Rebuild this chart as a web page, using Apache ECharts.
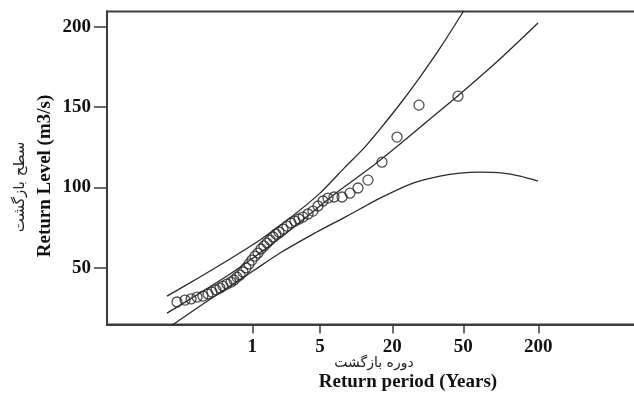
<!DOCTYPE html>
<html>
<head>
<meta charset="utf-8">
<script src="https://cdn.jsdelivr.net/npm/echarts@6/dist/echarts.min.js"></script>
<style>
  html, body { margin: 0; padding: 0; background: #fff; }
  #chart { width: 634px; height: 396px; }
</style>
</head>
<body>
<div id="chart"></div>
<script>
// Return-period axis: reduced-variate positions of the labelled periods
const periodTickPos = [0, 0.947, 1.958, 2.951, 4.0];
const periodTickLabels = ['1', '5', '20', '50', '200'];
const levelTicks = [50, 100, 150, 200];

// Observed annual maximum discharges (position on return-period axis, level m3/s)
const obsPos = [-1.053, -0.941, -0.857, -0.773, -0.690, -0.620, -0.564, -0.508, -0.452, -0.410,
  -0.354, -0.298, -0.256, -0.214, -0.172, -0.130, -0.088, -0.046, -0.004, 0.038,
  0.080, 0.122, 0.164, 0.206, 0.248, 0.290, 0.331, 0.373, 0.429, 0.485,
  0.541, 0.597, 0.653, 0.709, 0.779, 0.849, 0.919, 0.989, 1.059, 1.143,
  1.255, 1.366, 1.478, 1.618, 1.814, 2.024, 2.331, 2.877];
const obsLevel = [28.6, 29.8, 30.5, 31.7, 32.3, 33.6, 34.8, 36.1, 37.3, 38.5,
  39.8, 41.0, 42.3, 44.1, 45.4, 47.3, 49.8, 52.3, 54.7, 57.2,
  59.1, 61.6, 63.5, 65.3, 67.2, 69.1, 70.9, 72.2, 74.0, 75.9,
  77.8, 79.0, 80.3, 81.5, 83.4, 85.2, 88.4, 91.5, 93.3, 94.0,
  94.0, 96.4, 99.6, 104.5, 115.7, 131.3, 151.2, 156.8];

// Fitted return-level curve
const fitPos = [-1.193, -0.731, -0.312, 0.010, 0.387, 0.807, 1.226, 1.646, 2.066, 2.485, 2.905, 3.464, 3.996];
const fitLevel = [21.7, 34.2, 46.0, 56.0, 68.4, 83.4, 98.3, 112.0, 127.0, 142.5, 158.1, 179.9, 202.3];

// Upper 95% confidence bound
const upperPos = [-1.193, -0.731, -0.312, 0.108, 0.527, 0.947, 1.297, 1.548, 1.786, 2.066, 2.345, 2.625, 2.947, 3.045];
const upperLevel = [32.3, 44.2, 55.4, 67.2, 80.9, 96.4, 112.6, 123.8, 136.3, 151.9, 168.7, 186.7, 209.2, 216.6];

// Lower 95% confidence bound
const lowerPos = [-1.179, -0.731, -0.312, 0.010, 0.387, 0.849, 1.324, 1.786, 2.248, 2.625, 2.905, 3.185, 3.507, 3.745, 3.996];
const lowerLevel = [12.4, 26.1, 38.5, 47.9, 59.1, 70.9, 82.1, 93.3, 102.7, 107.0, 108.9, 109.5, 108.9, 107.0, 103.9];

const zip = (a, b) => a.map((v, i) => [v, b[i]]);
const serifBold = { fontFamily: 'Liberation Serif', fontWeight: 'bold', color: '#111' };
const lineStyle = { color: '#2a2a2a', width: 1.3 };

const chart = echarts.init(document.getElementById('chart'), null, { renderer: 'canvas' });
chart.setOption({
  animation: false,
  backgroundColor: '#fff',
  grid: {
    show: true, borderColor: '#3c3c3c', borderWidth: 2,
    left: 107, right: -10, top: 11.5, bottom: 71.5,
    outerBoundsMode: 'none'
  },
  xAxis: {
    type: 'value', min: -2.032, max: 5.478,
    axisLine: { show: true, onZero: false, lineStyle: { color: '#3c3c3c', width: 2 } },
    axisTick: { show: true, customValues: periodTickPos, length: 9, lineStyle: { color: '#3c3c3c', width: 1.5 } },
    axisLabel: {
      customValues: periodTickPos, margin: 13, fontSize: 19, ...serifBold,
      formatter: v => {
        const i = periodTickPos.findIndex(p => Math.abs(p - v) < 1e-6);
        return i >= 0 ? periodTickLabels[i] : '';
      }
    },
    splitLine: { show: false }
  },
  yAxis: {
    type: 'value', min: 14.6, max: 209.5,
    axisLine: { show: true, onZero: false, lineStyle: { color: '#3c3c3c', width: 2 } },
    axisTick: { show: true, customValues: levelTicks, length: 13, lineStyle: { color: '#3c3c3c', width: 1.5 } },
    axisLabel: { customValues: levelTicks, margin: 16, fontSize: 19, ...serifBold },
    splitLine: { show: false }
  },
  graphic: [
    { type: 'text', x: 374, y: 363, style: { text: 'دوره بازگشت', font: '14px "DejaVu Sans"', fill: '#222', align: 'center', verticalAlign: 'middle' } },
    { type: 'text', x: 408, y: 382, style: { text: 'Return period (Years)', font: 'bold 19px "Liberation Serif"', fill: '#111', align: 'center', verticalAlign: 'middle' } },
    { type: 'text', x: 45, y: 176, rotation: Math.PI / 2, style: { text: 'Return Level (m3/s)', font: 'bold 19px "Liberation Serif"', fill: '#111', align: 'center', verticalAlign: 'middle' } },
    { type: 'text', x: 20, y: 187, rotation: Math.PI / 2, style: { text: 'سطح بازگشت', font: '15px "DejaVu Sans"', fill: '#222', align: 'center', verticalAlign: 'middle' } }
  ],
  series: [
    { type: 'line', data: zip(upperPos, upperLevel), showSymbol: false, smooth: 0.2, lineStyle, clip: true },
    { type: 'line', data: zip(fitPos, fitLevel), showSymbol: false, smooth: 0.2, lineStyle, clip: true },
    { type: 'line', data: zip(lowerPos, lowerLevel), showSymbol: false, smooth: 0.2, lineStyle, clip: true },
    {
      type: 'scatter', data: zip(obsPos, obsLevel), symbol: 'circle', symbolSize: 10,
      itemStyle: { color: 'rgba(0,0,0,0)', borderColor: '#222', borderWidth: 1.3 }
    }
  ]
});
</script>
</body>
</html>
